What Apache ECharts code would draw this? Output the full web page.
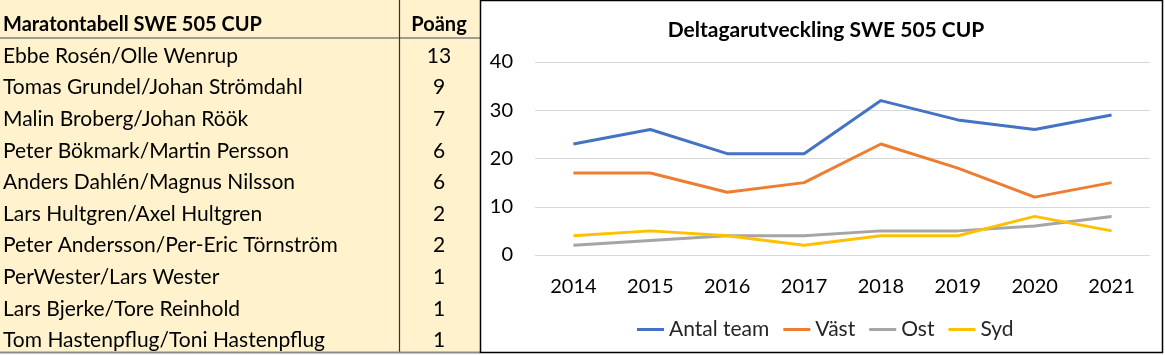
<!DOCTYPE html>
<html><head><meta charset="utf-8">
<script src="https://cdn.jsdelivr.net/npm/echarts@6/dist/echarts.min.js"></script>
<style>html,body{margin:0;padding:0;background:#fff}#c{width:1165px;height:355px}</style>
</head><body><div id="c"></div>
<script>
const tableTitle = 'Maratontabell SWE 505 CUP';
const pointsTitle = 'Poäng';
const teams = ['Ebbe Rosén/Olle Wenrup','Tomas Grundel/Johan Strömdahl','Malin Broberg/Johan Röök','Peter Bökmark/Martin Persson','Anders Dahlén/Magnus Nilsson','Lars Hultgren/Axel Hultgren','Peter Andersson/Per-Eric Törnström','PerWester/Lars Wester','Lars Bjerke/Tore Reinhold','Tom Hastenpflug/Toni Hastenpflug'];
const points = [13, 9, 7, 6, 6, 2, 2, 1, 1, 1];

const chartTitle = 'Deltagarutveckling SWE 505 CUP';
const years = ['2014','2015','2016','2017','2018','2019','2020','2021'];
const antalTeam = [23, 26, 21, 21, 32, 28, 26, 29];
const vast = [17, 17, 13, 15, 23, 18, 12, 15];
const ost = [2, 3, 4, 4, 5, 5, 6, 8];
const syd = [4, 5, 4, 2, 4, 4, 8, 5];
const seriesNames = ['Antal team', 'Väst', 'Ost', 'Syd'];
const seriesColors = ['#4472C4', '#ED7D31', '#A5A5A5', '#FFC000'];

const FONT = 'Lato, "Open Sans", sans-serif';
const graphics = [];
graphics.push({type:'rect', shape:{x:0,y:0,width:480,height:352}, style:{fill:'#FFF2CC'}, silent:true});
graphics.push({type:'line', shape:{x1:0,y1:38,x2:480,y2:38}, style:{stroke:'#7F7F7F',lineWidth:1.5}, silent:true});
graphics.push({type:'line', shape:{x1:399.5,y1:0,x2:399.5,y2:352}, style:{stroke:'#333',lineWidth:1.2}, silent:true});
graphics.push({type:'line', shape:{x1:0,y1:352.5,x2:480,y2:352.5}, style:{stroke:'#8C8C8C',lineWidth:2}, silent:true});
graphics.push({type:'text', x:3, y:25, style:{text:tableTitle, font:'bold 20px '+FONT, fill:'#000', textVerticalAlign:'middle'}, silent:true});
graphics.push({type:'text', x:439, y:25, style:{text:pointsTitle, font:'bold 20px '+FONT, fill:'#000', textAlign:'center', textVerticalAlign:'middle'}, silent:true});
teams.forEach((t, i) => {
  const y = 56 + i * 31.6;
  graphics.push({type:'text', x:3, y:y, style:{text:t, font:'21px '+FONT, fill:'#000', textVerticalAlign:'middle'}, silent:true});
  graphics.push({type:'text', x:439, y:y, style:{text:String(points[i]), font:'21px '+FONT, fill:'#000', textAlign:'center', textVerticalAlign:'middle'}, silent:true});
});
graphics.push({type:'rect', shape:{x:480.5,y:0.5,width:682,height:352}, style:{fill:'none',stroke:'#000',lineWidth:1.5}, silent:true});

const chart = echarts.init(document.getElementById('c'), null, {renderer:'canvas'});
const dataArr = [antalTeam, vast, ost, syd];
chart.setOption({
  animation:false,
  title:{text:chartTitle, left:821, top:15, textAlign:'center', textStyle:{fontFamily:FONT, fontWeight:'bold', fontSize:21, color:'#000'}},
  legend:{top:314, left:632, data:seriesNames, icon:'rect', itemWidth:27, itemHeight:3, itemGap:14,
    textStyle:{fontFamily:FONT, fontSize:21, color:'#262626'}},
  grid:{left:535, right:15, top:62, height:193},
  xAxis:{type:'category', data:years, boundaryGap:true, axisLine:{show:false}, axisTick:{show:false},
    axisLabel:{fontFamily:FONT, fontSize:20, color:'#000', margin:22}},
  yAxis:{type:'value', min:0, max:40, interval:10, axisLine:{show:false}, axisTick:{show:false},
    splitLine:{lineStyle:{color:'#D9D9D9', width:1}},
    axisLabel:{fontFamily:FONT, fontSize:20, color:'#000', margin:22}},
  series: seriesNames.map((n, i) => ({name:n, type:'line', data:dataArr[i], symbol:'none',
    lineStyle:{color:seriesColors[i], width:3}, itemStyle:{color:seriesColors[i]}})),
  graphic: graphics
});
</script></body></html>
